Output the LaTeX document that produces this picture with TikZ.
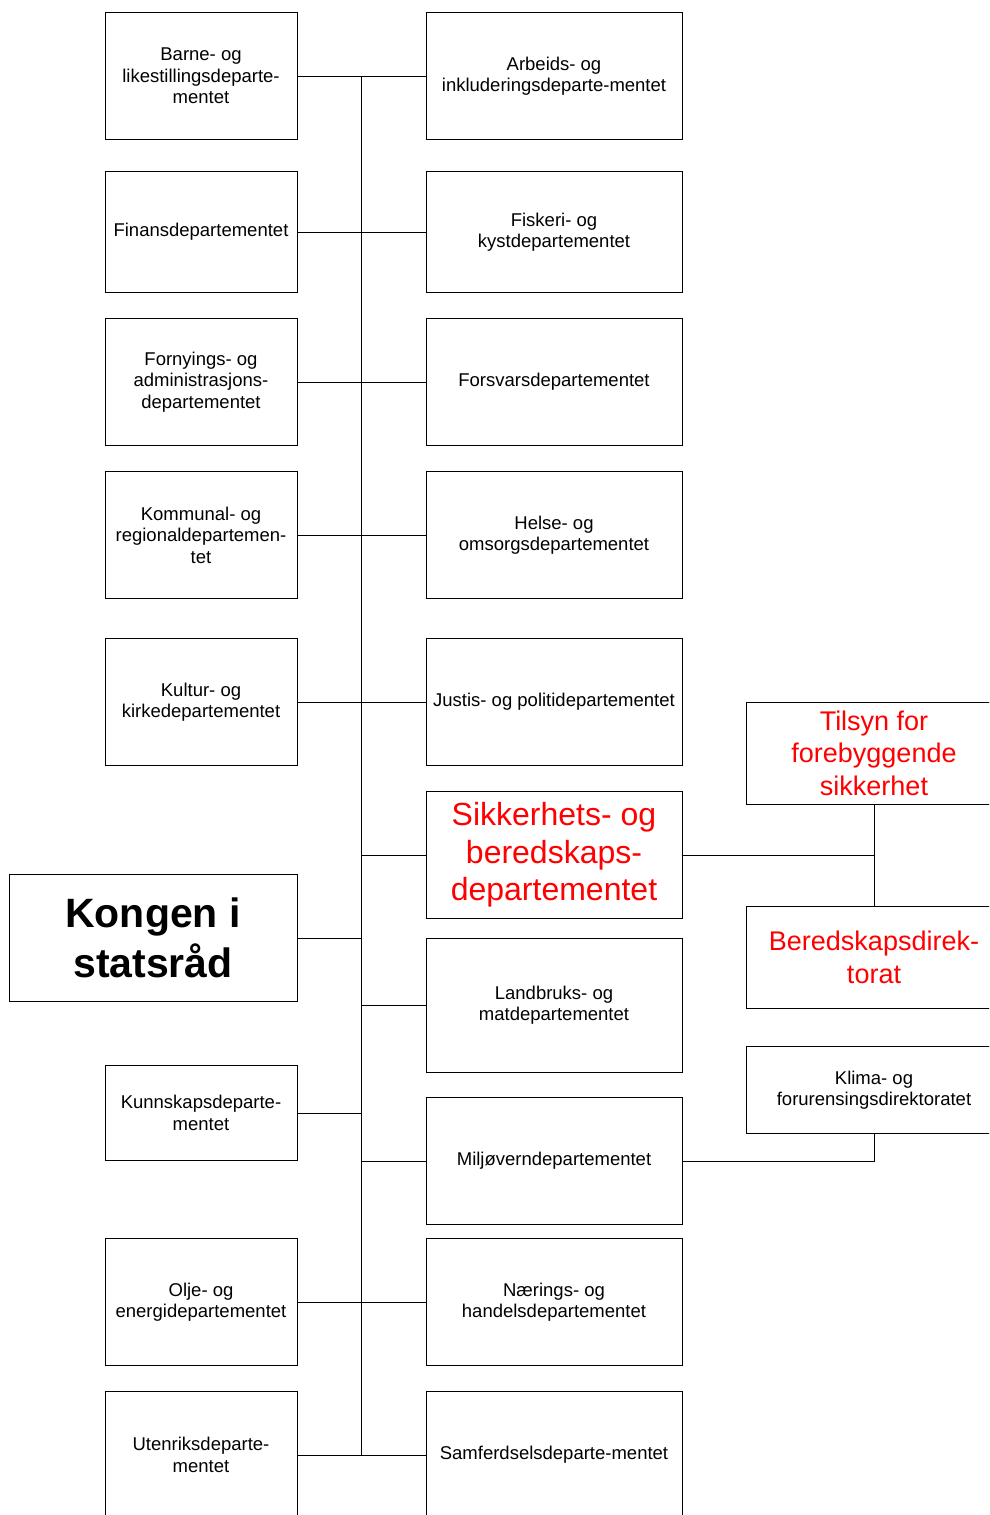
\documentclass[tikz,border=0pt]{standalone}
\usepackage{fontspec}
\setmainfont{Liberation Sans}
\usetikzlibrary{positioning}

\begin{document}
\begin{tikzpicture}[x=1pt,y=-1pt,line width=1pt,
	box/.style={draw,rectangle,align=center,inner sep=2pt,minimum height=127pt,font=\fontsize{18.5}{21.5}\selectfont},
	lbox/.style={box,minimum width=192pt},
	rbox/.style={box,minimum width=256pt},
	alarm/.style={text=red,font=\fontsize{32}{37.5}\selectfont}]
	\clip (0,0) rectangle (989,1515);
	% venstre kolonne
	\node[lbox]	(barne)	at (201,76)	{Barne- og\\likestillingsdeparte-\\mentet};
	\node[lbox,minimum height=121pt]	(finans)	at (201,232)	{Finansdepartementet};
	\node[lbox]	(forny)	at (201,382)	{Fornyings- og\\administrasjons-\\departementet};
	\node[lbox]	(kommunal)	at (201,535)	{Kommunal- og\\regionaldepartemen-\\tet};
	\node[lbox]	(kultur)	at (201,702)	{Kultur- og\\kirkedepartementet};
	\node[box,minimum width=288pt,font=\fontsize{41}{50}\selectfont\bfseries]	(kongen)	at (153,938)	{Kongen i\\statsråd};
	\node[lbox,minimum height=95pt]	(kunnskap)	at (201,1113)	{Kunnskapsdeparte-\\mentet};
	\node[lbox]	(olje)	at (201,1302)	{Olje- og\\energidepartementet};
	\node[lbox]	(utenriks)	at (201,1455)	{Utenriksdeparte-\\mentet};
	% hoeyre kolonne
	\node[rbox]	(arbeid)	at (554,76)	{Arbeids- og\\inkluderingsdeparte-mentet};
	\node[rbox,minimum height=121pt]	(fiskeri)	at (554,232)	{Fiskeri- og\\kystdepartementet};
	\node[rbox]	(forsvar)	at (554,382)	{Forsvarsdepartementet};
	\node[rbox]	(helse)	at (554,535)	{Helse- og\\omsorgsdepartementet};
	\node[rbox]	(justis)	at (554,702)	{Justis- og politidepartementet};
	\node[rbox,alarm]	(sikkerhet)	at (554,855)	{Sikkerhets- og\\beredskaps-\\departementet};
	\node[rbox,minimum height=134pt]	(landbruk)	at (554,1005)	{Landbruks- og\\matdepartementet};
	\node[rbox]	(miljo)	at (554,1161)	{Miljøverndepartementet};
	\node[rbox]	(naering)	at (554,1302)	{Nærings- og\\handelsdepartementet};
	\node[rbox]	(samferdsel)	at (554,1455)	{Samferdselsdeparte-mentet};
	% underliggende
	\node[rbox,minimum height=102pt,font=\fontsize{27}{32.5}\selectfont,text=red]	(tilsyn)	at (874,753)	{Tilsyn for\\forebyggende\\sikkerhet};
	\node[rbox,minimum height=102pt,font=\fontsize{27}{33}\selectfont,text=red]	(beredskap)	at (874,957)	{Beredskapsdirek-\\torat};
	\node[rbox,minimum height=87pt]	(klima)	at (874,1090)	{Klima- og\\forurensingsdirektoratet};
	% stamme
	\coordinate (topp) at (361,76);
	\coordinate (bunn) at (361,1455);
	\draw (topp) -- (bunn);
	\path[draw]
		(barne) edge (arbeid)
		(finans) edge (fiskeri)
		(forny) edge (forsvar)
		(kommunal) edge (helse)
		(kultur) edge (justis)
		(olje) edge (naering)
		(utenriks) edge (samferdsel)
		(tilsyn) edge (beredskap)
		;
	\draw (kongen.east) -- (kongen.east -| topp);
	\draw (kunnskap.east) -- (kunnskap.east -| topp);
	\draw (sikkerhet.west) -- (sikkerhet.west -| topp);
	\draw (landbruk.west) -- (landbruk.west -| topp);
	\draw (miljo.west) -- (miljo.west -| topp);
	\draw (sikkerhet.east) -- (sikkerhet.east -| tilsyn.south);
	\draw (miljo.east) -| (klima.south);
\end{tikzpicture}
\end{document}
